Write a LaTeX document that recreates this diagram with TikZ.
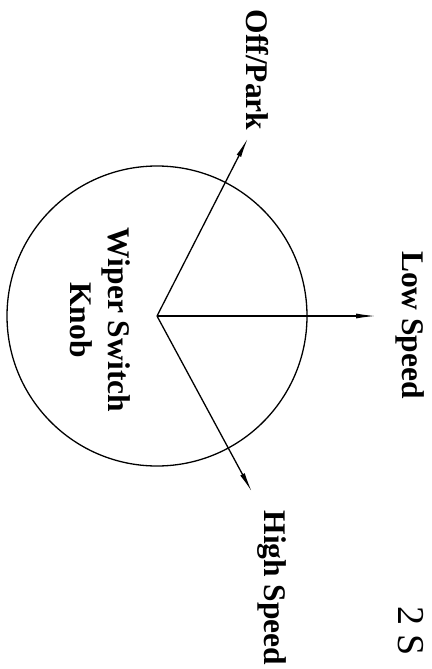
\documentclass[tikz,border=0pt]{standalone}
\usepackage{fontspec}
\setmainfont{Liberation Serif}
\usetikzlibrary{arrows.meta,positioning}
\tikzset{
  every picture/.style={font=\bfseries\fontsize{31.5}{38}\selectfont},
  knob ring/.style={circle, draw, line width=1.3pt, minimum size=300pt, inner sep=0pt},
  knob label/.style={rotate=-90, align=center, inner sep=0pt},
  knob arrow/.style={-{Latex[length=20pt,width=5pt]}, line width=1.3pt}
}

\begin{document}
\begin{tikzpicture}[x=1pt, y=-1pt]
  \useasboundingbox (0,0) rectangle (431,669);
  \node[knob ring] (knob) at (157,316) {};
  \coordinate (hub) at (knob.center);
  \coordinate (offtip) at (248,138);
  \coordinate (lowtip) at (376,316);
  \coordinate (hightip) at (252,492);
  \node[knob label] (name) at (100,320) {Wiper Switch\\Knob};
  \node[knob label] (off) at (257,70) {Off/Park};
  \node[knob label] (low) at (410,325) {Low Speed};
  \node[knob label] (high) at (272,588) {High Speed};
  \node[knob label, anchor=west, font=\fontsize{38}{46}\selectfont] (more) at (411,606) {2 S};
  \draw[knob arrow] (hub) -- (offtip);
  \draw[knob arrow] (hub) -- (lowtip);
  \draw[knob arrow] (hub) -- (hightip);
\end{tikzpicture}
\end{document}
